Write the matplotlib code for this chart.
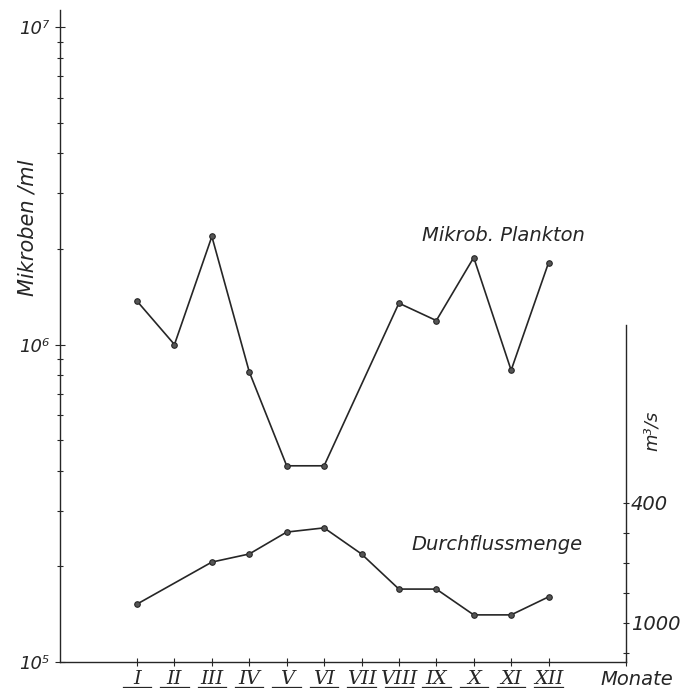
import matplotlib
matplotlib.use("Agg")
import matplotlib.pyplot as plt
from matplotlib.ticker import LogLocator, NullFormatter, FixedLocator, FixedFormatter
from matplotlib.transforms import blended_transform_factory

# Monate und Werte
monate = ["I", "II", "III", "IV", "V", "VI", "VII", "VIII", "IX", "X", "XI", "XII"]
monat_nr = list(range(1, 13))

# Mikrob. Plankton (Mikroben/ml), Juli fehlt
plankton_nr = [1, 2, 3, 4, 5, 6, 8, 9, 10, 11, 12]
plankton = [1.37e6, 1.0e6, 2.19e6, 8.2e5, 4.15e5, 4.15e5, 1.35e6, 1.19e6, 1.88e6, 8.3e5, 1.81e6]

# Durchflussmenge (m3/s), Februar fehlt
durchfluss_nr = [1, 3, 4, 5, 6, 7, 8, 9, 10, 11, 12]
durchfluss = [1063, 1203, 1230, 1303, 1317, 1230, 1113, 1113, 1027, 1027, 1087]

rechts_ticks = [1400, 1300, 1200, 1100, 1000, 900]
rechts_labels = ["400", "", "", "", "1000", ""]

FONT = "DejaVu Sans"
INK = "#262626"

fig = plt.figure(figsize=(6.81, 6.88), dpi=100)
ax = fig.add_axes([0.0881, 0.0378, 0.8311, 0.9477])

ax.plot(plankton_nr, plankton, color=INK, lw=1.2, marker="o", ms=4,
        mfc="#555555", mec=INK, mew=0.8)
ax.set_yscale("log")
ax.set_ylim(1e5, 10 ** 7.054)
ax.set_xlim(-1.06, 14.07)

ax.yaxis.set_major_locator(FixedLocator([1e5, 1e6, 1e7]))
ax.yaxis.set_major_formatter(FixedFormatter(["10⁵", "10⁶", "10⁷"]))
ax.yaxis.set_minor_locator(LogLocator(base=10, subs=range(2, 10)))
ax.yaxis.set_minor_formatter(NullFormatter())
ax.tick_params(axis="y", which="both", direction="inout", color=INK, width=0.8)
ax.tick_params(axis="y", which="major", length=7, pad=4, labelsize=13, labelcolor=INK)
ax.tick_params(axis="y", which="minor", length=4)

ax.set_xticks(monat_nr + [14.07])
ax.set_xticklabels([""] * 13)
ax.tick_params(axis="x", direction="inout", length=6, width=0.8, color=INK)

for lab in ax.get_yticklabels():
    lab.set_family(FONT)
    lab.set_style("italic")

for s in ["top", "right"]:
    ax.spines[s].set_visible(False)
for s in ["left", "bottom"]:
    ax.spines[s].set_color(INK)
    ax.spines[s].set_linewidth(1.0)

# roemische Monatszahlen mit Unterstrich
tr = blended_transform_factory(ax.transData, ax.transAxes)
for nr, m in zip(monat_nr, monate):
    ax.text(nr, -0.012, m, transform=tr, ha="center", va="top", fontsize=14,
            family="DejaVu Serif", style="italic", color=INK, clip_on=False)
    ax.plot([nr - 0.38, nr + 0.38], [-0.038, -0.038], transform=tr, color=INK,
            lw=0.9, clip_on=False)

ax.text(14.37, -0.012, "Monate", transform=tr, ha="center", va="top", fontsize=14,
        family=FONT, style="italic", color=INK, clip_on=False)

ax.text(-0.057, 0.666, "Mikroben /ml", transform=ax.transAxes, rotation=90,
        ha="center", va="center", fontsize=15, family=FONT, style="italic", color=INK)
ax.text(10.8, 2.21e6, "Mikrob. Plankton", ha="center", va="center", fontsize=14,
        family=FONT, style="italic", color=INK)

# rechte Achse fuer die Durchflussmenge
ax2 = ax.twinx()
ax2.plot(durchfluss_nr, durchfluss, color=INK, lw=1.2, marker="o", ms=4,
         mfc="#555555", mec=INK, mew=0.8)
ax2.set_ylim(870, 3043)
ax2.yaxis.set_major_locator(FixedLocator(rechts_ticks))
ax2.yaxis.set_major_formatter(FixedFormatter(rechts_labels))
ax2.tick_params(axis="y", direction="inout", length=5, width=0.8, pad=1,
                labelsize=14, color=INK, labelcolor=INK)
for lab in ax2.get_yticklabels():
    lab.set_family(FONT)
    lab.set_style("italic")
for s in ["top", "left", "bottom"]:
    ax2.spines[s].set_visible(False)
ax2.spines["right"].set_bounds(870, 1993)
ax2.spines["right"].set_color(INK)
ax2.spines["right"].set_linewidth(1.0)

ax2.text(1.045, 0.355, "m³/s", transform=ax2.transAxes, rotation=90,
         ha="center", va="center", fontsize=13, family=FONT, style="italic", color=INK)
ax2.text(10.63, 1260, "Durchflussmenge", ha="center", va="center", fontsize=14,
         family=FONT, style="italic", color=INK)

fig.savefig("out.png", dpi=100, facecolor="white")
